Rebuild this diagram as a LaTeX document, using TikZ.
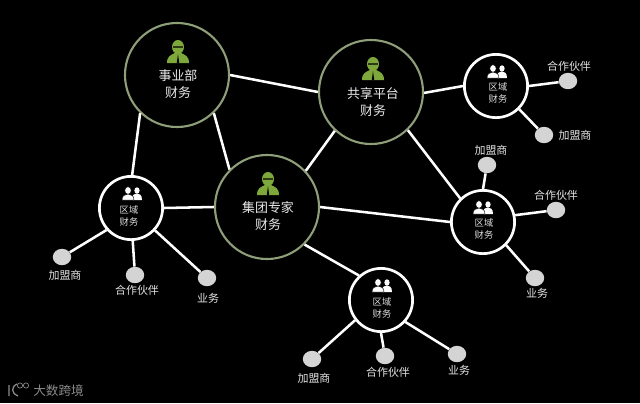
\documentclass[tikz,border=0pt]{standalone}
\usepackage{fontspec}
\usetikzlibrary{shapes.geometric}
\setmainfont{Noto Sans CJK SC}
\tikzset{
  bigcircle/.style = {circle, draw = ringgreen, line width = 1.5pt, fill = black, minimum size = 2.6cm, inner sep = 0pt},
  smallcircle/.style = {circle, draw = white, line width = 1.9pt, fill = black, minimum size = 1.58cm, inner sep = 0pt},
  leaf/.style = {ellipse, fill = leafgray, minimum width = 0.46cm, minimum height = 0.41cm, inner sep = 0pt},
  link/.style = {white, line width = 1.8pt},
  biglabel/.style = {text = white!92!black, font = \fontsize{9.2}{11.5}\selectfont, align = center, inner sep = 0pt},
  smalllabel/.style = {text = white!88!black, font = \fontsize{6.6}{9}\selectfont, align = center, inner sep = 0pt},
  leaflabel/.style = {text = white!90!black, font = \fontsize{7.8}{9}\selectfont, inner sep = 0pt},
  logotext/.style = {text = logogray, font = \fontsize{9}{10}\selectfont, inner sep = 0pt},
  expert/.pic = {
    \fill [iconGreen] (0,-5) circle [x radius = 6, y radius = 7];
    \fill [iconGreen] (-11,11) .. controls (-11,4) and (-7,3) .. (-3,1) -- (3,1) .. controls (7,3) and (11,4) .. (11,11) -- cycle;
    \fill [black!65!iconGreen] (-5,-6.5) rectangle (5,-4.5);
    \fill [black] (0,2) -- (-1.2,11) -- (1.2,11) -- cycle;
  },
  team/.pic = {
    \fill [white] (5,-2.5) circle [x radius = 2.6, y radius = 3.2];
    \fill [white] (1,7) -- (1,2) .. controls (2,1) and (4,1) .. (5,0.5) .. controls (7,1) and (10,1) .. (10,7) -- cycle;
    \fill [white, draw = black, line width = 0.3pt] (-4,-2.5) circle [x radius = 3.2, y radius = 3.8];
    \fill [white, draw = black, line width = 0.3pt] (-10,7) .. controls (-10,2) and (-7,2) .. (-4,1) .. controls (-1,2) and (2,2) .. (2,7) -- cycle;
  }
}
\definecolor{ringgreen}{HTML}{8E9E78}
\definecolor{iconGreen}{HTML}{7FA83C}
\definecolor{leafgray}{HTML}{D4D4D4}
\definecolor{logogray}{HTML}{8A8A8A}
\begin{document}
\begin{tikzpicture}[x = 0.025cm, y = -0.025cm]
\fill [black] (0,0) rectangle (640,403);
\useasboundingbox (0,0) rectangle (640,403);
% main circles
\node [bigcircle] (dept) at (177,75) {};
\node [bigcircle] (share) at (371,92) {};
\node [bigcircle] (expert) at (267,207) {};
% regional circles
\node [smallcircle] (regleft) at (131,208) {};
\node [smallcircle] (regtop) at (496,86) {};
\node [smallcircle] (regright) at (483,222) {};
\node [smallcircle] (regbottom) at (381,300) {};
% leaves
\node [leaf] (leftjoin) at (62,257) {};
\node [leaf] (leftpartner) at (135,275) {};
\node [leaf] (leftbiz) at (207,278) {};
\node [leaf] (toppartner) at (568,81) {};
\node [leaf] (topjoin) at (544,135) {};
\node [leaf] (rightjoin) at (487,165) {};
\node [leaf] (rightpartner) at (556,210) {};
\node [leaf] (rightbiz) at (535,278) {};
\node [leaf] (bottomjoin) at (312,359) {};
\node [leaf] (bottompartner) at (385,356) {};
\node [leaf] (bottombiz) at (457,354) {};
% links
\draw [link] (dept.0) -- (share.180);
\draw [link] (dept.-46) -- (expert.135);
\draw [link] (dept.-134) -- (regleft.88);
\draw [link] (share.-133) -- (expert.43);
\draw [link] (share.-1) -- (regtop.180);
\draw [link] (share.-46) -- (regright.134);
\draw [link] (expert.180) -- (regleft.0);
\draw [link] (expert.0) -- (regright.180);
\draw [link] (expert.-45) -- (regbottom.132);
\draw [link] (regleft.-138) -- (leftjoin);
\draw [link] (regleft.-87) -- (leftpartner);
\draw [link] (regleft.-43) -- (leftbiz);
\draw [link] (regtop.0) -- (toppartner);
\draw [link] (regtop.-45) -- (topjoin);
\draw [link] (regright.90) -- (rightjoin);
\draw [link] (regright.12) -- (rightpartner);
\draw [link] (regright.-45) -- (rightbiz);
\draw [link] (regbottom.-142) -- (bottomjoin);
\draw [link] (regbottom.-90) -- (bottompartner);
\draw [link] (regbottom.-42) -- (bottombiz);
% icons
\pic at (178,52) {expert};
\pic at (373,69) {expert};
\pic at (268,184) {expert};
\pic at (132,193) {team};
\pic at (497,71) {team};
\pic at (483,207) {team};
\pic at (382,285) {team};
% circle texts
\node [biglabel] (deptlabel) at (178,84) {事业部\\财务};
\node [biglabel] (sharelabel) at (373,102) {共享平台\\财务};
\node [biglabel] (expertlabel) at (268,216) {集团专家\\财务};
\node [smalllabel] (regleftlabel) at (129,216) {区域\\财务};
\node [smalllabel] (regtoplabel) at (498,93) {区域\\财务};
\node [smalllabel] (regrightlabel) at (484,229) {区域\\财务};
\node [smalllabel] (regbottomlabel) at (382,308) {区域\\财务};
% leaf texts
\node [leaflabel] at (65,275) {加盟商};
\node [leaflabel] at (137,290) {合作伙伴};
\node [leaflabel] at (208,298) {业务};
\node [leaflabel] at (569,66) {合作伙伴};
\node [leaflabel] at (575,135) {加盟商};
\node [leaflabel] at (491,150) {加盟商};
\node [leaflabel] at (556,195) {合作伙伴};
\node [leaflabel] at (537,293) {业务};
\node [leaflabel] at (314,378) {加盟商};
\node [leaflabel] at (388,372) {合作伙伴};
\node [leaflabel] at (459,370) {业务};
% watermark
\draw [logogray, line width = 0.9pt] (9,385) -- (9,396) (17,384) .. controls (11,387) and (11,393) .. (18,396);
\draw [logogray, line width = 0.5pt] (20,385.5) circle [radius = 2.6] (26,385.5) circle [radius = 2.6];
\node [logotext, anchor = west] (watermark) at (33,391) {大数跨境};
\end{tikzpicture}
\end{document}
